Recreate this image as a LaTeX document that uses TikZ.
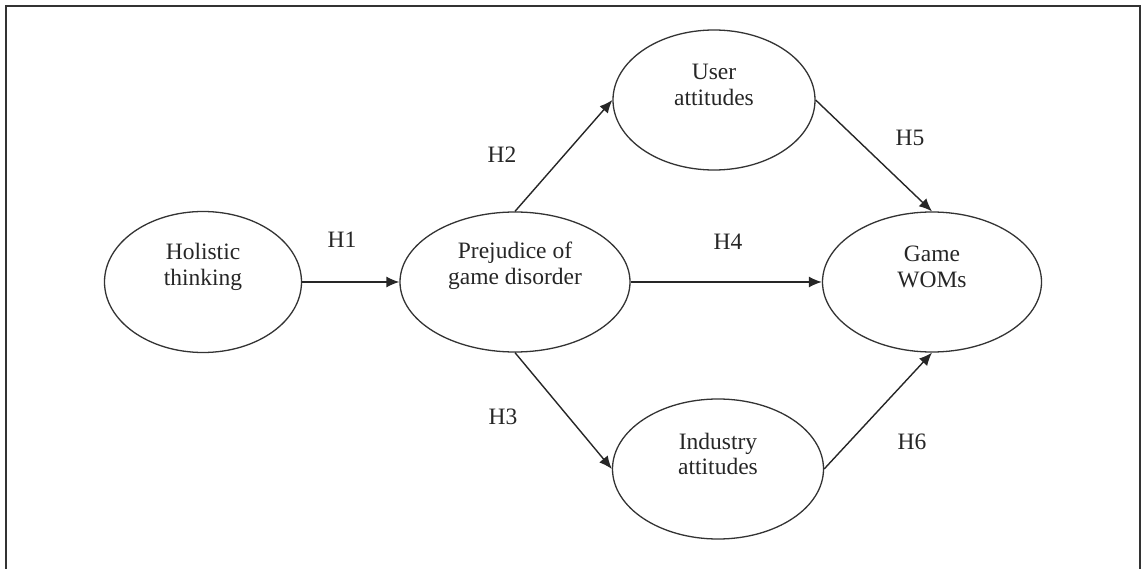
\documentclass[tikz,border=0pt]{standalone}
\usepackage{fontspec}
\setmainfont{Liberation Serif}
\usetikzlibrary{shapes.geometric,arrows.meta}
\tikzset{
  ellip/.style={ellipse, draw=black!80, line width=1.3pt, inner sep=0pt},
  lbl/.style={align=center, text=black!85, font=\fontsize{23.5}{25.5}\selectfont},
  hyp/.style={-{Latex[length=13pt,width=11pt]}, line width=1.4pt, draw=black!85}
}
\begin{document}
\begin{tikzpicture}[x=1pt,y=-1pt]
    \useasboundingbox (0,0) rectangle (1141,569);
    % frame, open at the bottom
    \draw[line width=2pt, black!80] (5.5,575) -- (5.5,6) -- (1139.5,6) -- (1139.5,575);

    % Constructs
    \node[ellip, minimum width=197pt, minimum height=141pt] (hol) at (203,282) {};
    \node[ellip, minimum width=230pt, minimum height=140pt] (prej) at (515,282) {};
    \node[ellip, minimum width=202pt, minimum height=140pt] (user) at (714,100) {};
    \node[ellip, minimum width=211pt, minimum height=140pt] (ind) at (718,469) {};
    \node[ellip, minimum width=219pt, minimum height=140pt] (wom) at (932,282) {};

    \node[lbl] (holt) at ([yshift=15pt]hol.center) {Holistic\\thinking};
    \node[lbl] (prejt) at ([yshift=16pt]prej.center) {Prejudice of\\game disorder};
    \node[lbl] (usert) at ([yshift=15pt]user.center) {User\\attitudes};
    \node[lbl] (indt) at ([yshift=15pt]ind.center) {Industry\\attitudes};
    \node[lbl] (womt) at ([yshift=15pt]wom.center) {Game\\WOMs};

    % Paths
    \draw[hyp] (hol.east) -- (prej.west);
    \draw[hyp] (prej.north) -- (user.west);
    \draw[hyp] (prej.south) -- (ind.west);
    \draw[hyp] (prej.east) -- (wom.west);
    \draw[hyp] (user.east) -- (wom.north);
    \draw[hyp] (ind.east) -- (wom.south);

    \node[lbl] (h1) at (342,240) {H1};
    \node[lbl] (h2) at (502,155) {H2};
    \node[lbl] (h3) at (503,417) {H3};
    \node[lbl] (h4) at (728,242) {H4};
    \node[lbl] (h5) at (910,138) {H5};
    \node[lbl] (h6) at (912,442) {H6};
\end{tikzpicture}
\end{document}
